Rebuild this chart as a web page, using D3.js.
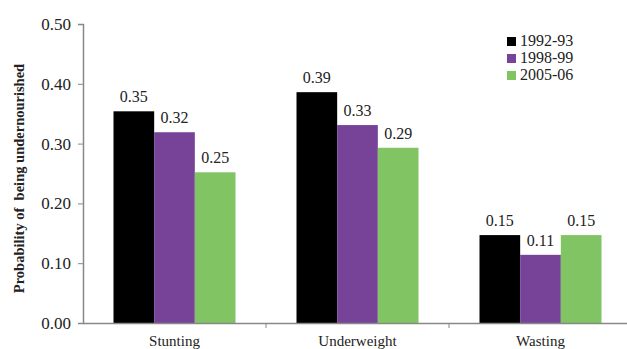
<!DOCTYPE html>
<html>
<head>
<meta charset="utf-8">
<script src="https://cdn.jsdelivr.net/npm/d3@7"></script>
<style>
  html, body { margin: 0; padding: 0; background: #fff; overflow: hidden; }
  svg { display: block; }
</style>
</head>
<body>
<div id="chart"></div>
<script>
// Probability of being undernourished, by indicator and survey round
const categories = ["Stunting", "Underweight", "Wasting"];
const seriesNames = ["1992-93", "1998-99", "2005-06"];
const seriesColors = ["#000000", "#764398", "#80C463"];
const values1992 = [0.354, 0.386, 0.147];
const values1998 = [0.319, 0.331, 0.114];
const values2005 = [0.252, 0.293, 0.147];
const yTicks = [0.00, 0.10, 0.20, 0.30, 0.40, 0.50];

const seriesValues = [values1992, values1998, values2005];
const SERIF = "Liberation Serif, Times New Roman, serif";
const W = 627, H = 349;
const margin = { left: 83, top: 24, bottom: 26 };
const plotRight = 632;

const svg = d3.select("#chart").append("svg").attr("width", W).attr("height", H)
  .attr("font-family", SERIF);

const y = d3.scaleLinear().domain([0, 0.5]).range([H - margin.bottom, margin.top]);
const x0 = d3.scaleBand().domain(categories).range([margin.left, plotRight]).padding(0);
const x1 = d3.scaleBand().domain(seriesNames).range([0, x0.bandwidth()])
  .paddingInner(0).paddingOuter(0.75);

const fmt = d3.format(".2f");

// bars
const groups = svg.append("g").selectAll("g").data(categories).join("g")
  .attr("transform", d => `translate(${x0(d)},0)`);

const cellData = (c, ci) => seriesNames.map((s, si) => ({ s, si, v: seriesValues[si][ci] }));

groups.selectAll("rect").data(cellData).join("rect")
  .attr("x", d => x1(d.s))
  .attr("y", d => y(d.v))
  .attr("width", x1.bandwidth())
  .attr("height", d => y(0) - y(d.v))
  .attr("fill", d => seriesColors[d.si]);

groups.selectAll("text.val").data(cellData).join("text")
  .attr("class", "val")
  .attr("x", d => x1(d.s) + x1.bandwidth() / 2)
  .attr("y", d => y(d.v) - 9)
  .attr("text-anchor", "middle")
  .attr("font-family", SERIF)
  .attr("font-size", 16)
  .attr("fill", "#222")
  .text(d => fmt(d.v));

// y axis
const yAxis = d3.axisLeft(y).tickValues(yTicks).tickFormat(fmt).tickSize(5).tickPadding(7);
const gy = svg.append("g").attr("transform", `translate(${margin.left},0)`).call(yAxis);
gy.attr("font-family", SERIF);
gy.select(".domain").attr("stroke", "#888").attr("stroke-width", 1.5);
gy.selectAll(".tick line").attr("stroke", "#888");
gy.selectAll(".tick text").attr("font-size", 17).attr("fill", "#222");

// x axis
const xAxis = d3.axisBottom(x0).tickSize(0).tickPadding(12);
const gx = svg.append("g").attr("transform", `translate(0,${y(0)})`).call(xAxis);
gx.attr("font-family", SERIF);
gx.select(".domain").attr("stroke", "#888").attr("stroke-width", 1.5);
gx.selectAll(".tick text").attr("font-size", 15).attr("fill", "#222");
// category separators
gx.selectAll("line.sep").data(categories.slice(1)).join("line")
  .attr("class", "sep")
  .attr("x1", d => x0(d)).attr("x2", d => x0(d))
  .attr("y1", 0).attr("y2", 5)
  .attr("stroke", "#888");

// y axis title
svg.append("text")
  .attr("transform", `translate(24,${(y(0) + y(0.5)) / 2 + 5}) rotate(-90)`)
  .attr("text-anchor", "middle")
  .attr("font-family", SERIF)
  .attr("font-size", 14.5)
  .attr("font-weight", "bold")
  .attr("fill", "#222")
  .style("white-space", "pre")
  .text("Probability of  being undernourished");

// legend
const legend = svg.append("g").attr("transform", "translate(507,35)");
const li = legend.selectAll("g").data(seriesNames).join("g")
  .attr("transform", (d, i) => `translate(0,${i * 17})`);
li.append("rect").attr("width", 9).attr("height", 9).attr("y", 2)
  .attr("fill", (d, i) => seriesColors[i]);
li.append("text").attr("x", 13).attr("y", 11)
  .attr("font-family", SERIF)
  .attr("font-size", 16).attr("fill", "#222").text(d => d);
</script>
</body>
</html>
